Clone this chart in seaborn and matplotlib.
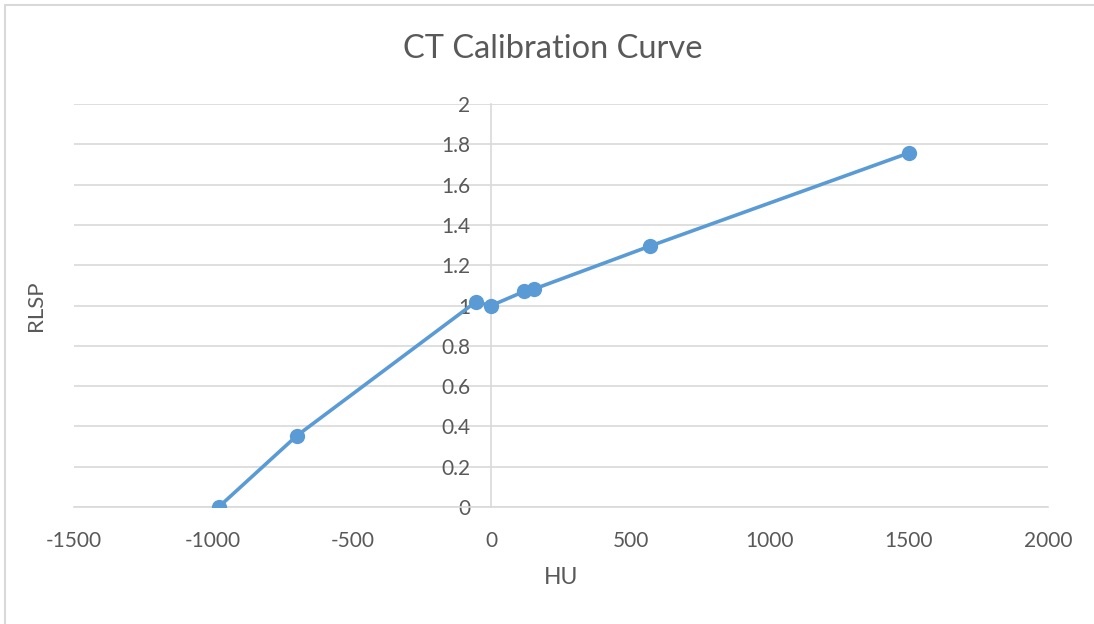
import matplotlib
matplotlib.use("Agg")
import matplotlib.pyplot as plt
import seaborn as sns
import pandas as pd
from matplotlib.patches import Rectangle

hu = [-980, -700, -57, 0, 118, 152, 570, 1500]
rlsp = [0.0, 0.353, 1.017, 1.0, 1.070, 1.081, 1.295, 1.757]
x_ticks = [-1500, -1000, -500, 0, 500, 1000, 1500, 2000]
y_ticks = [0, 0.2, 0.4, 0.6, 0.8, 1, 1.2, 1.4, 1.6, 1.8, 2]
y_labels = ["0", "0.2", "0.4", "0.6", "0.8", "1", "1.2", "1.4", "1.6", "1.8", "2"]

df = pd.DataFrame({"HU": hu, "RLSP": rlsp})

sns.set_theme(style="white")
plt.rcParams['font.family'] = ['Lato', 'DejaVu Sans']

W, H = 1094, 624
fig = plt.figure(figsize=(W / 100, H / 100), dpi=100)
ax = fig.add_axes([74 / W, 1 - 507 / H, (1048 - 74) / W, (507 - 104) / H])

grid_c = "#d9d9d9"
text_c = "#595959"
line_c = "#5b9bd5"

sns.lineplot(data=df, x="HU", y="RLSP", sort=False, ax=ax, color=line_c,
             linewidth=2.6, marker="o", markersize=11, markeredgewidth=0,
             markeredgecolor=line_c, zorder=5)

ax.set_xlim(-1500, 2000)
ax.set_ylim(0, 2)
ax.set_xticks(x_ticks)
ax.set_xticklabels([str(t) for t in x_ticks])
ax.set_yticks(y_ticks)
ax.set_yticklabels(y_labels)
ax.yaxis.grid(True, color=grid_c, linewidth=1.2)
ax.xaxis.grid(False)
for s in ["top", "right"]:
    ax.spines[s].set_visible(False)
ax.spines["left"].set_position(("data", 0))
ax.spines["left"].set_color(grid_c)
ax.spines["left"].set_linewidth(1.2)
ax.spines["bottom"].set_color(grid_c)
ax.spines["bottom"].set_linewidth(1.2)
ax.tick_params(axis="both", length=0, labelsize=15, colors=text_c)
ax.tick_params(axis="x", pad=17)
ax.tick_params(axis="y", pad=15)
ax.set_xlabel("")
ax.set_ylabel("")

fig.text(553 / W, 1 - 49 / H, "CT Calibration Curve", ha="center",
         va="center", fontsize=23.5, color=text_c)
fig.text(561 / W, 1 - 578 / H, "HU", ha="center", va="center", fontsize=16.5, color=text_c)
fig.text(36 / W, 1 - 306 / H, "RLSP", ha="center", va="center", fontsize=16,
         color=text_c, rotation=90)

fig.patches.append(Rectangle((5 / W, -0.1), 1.2, 1 - 5 / H + 0.1, transform=fig.transFigure,
                             fill=False, edgecolor=grid_c, linewidth=1.5))

fig.savefig("out.png", dpi=100, facecolor="white")
